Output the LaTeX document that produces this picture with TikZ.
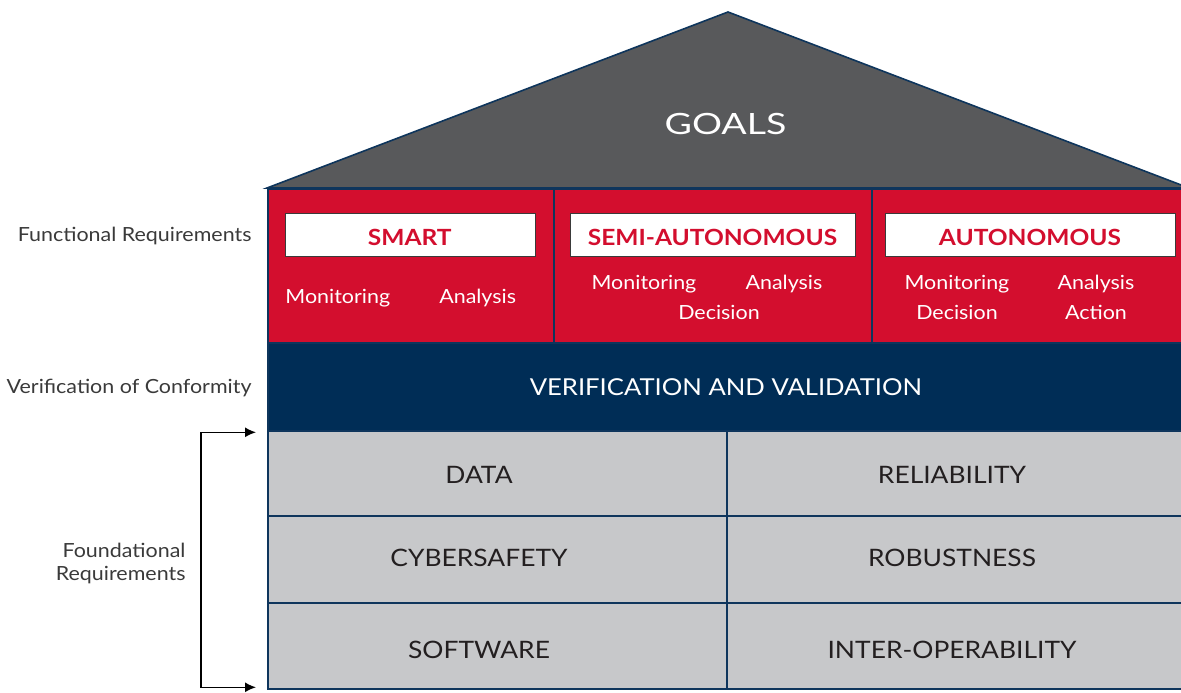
\documentclass[tikz,border=0pt]{standalone}
\usepackage{fontspec}
\setmainfont{Lato}[FakeStretch=1.1]
\newfontfamily\fontacoperis{Lato}[FakeStretch=1.28]
\usetikzlibrary{arrows.meta}

\definecolor{acoperis}{HTML}{58595B}
\definecolor{bleumarin}{HTML}{002D56}
\definecolor{contur}{HTML}{0E355C}
\definecolor{rosu}{HTML}{D30E2E}
\definecolor{gri}{HTML}{C7C8CA}
\definecolor{textinchis}{HTML}{231F20}
\definecolor{textgri}{HTML}{3A3A3A}

\newcommand{\mar}[1]{\fontsize{#1}{#1}\selectfont}

\begin{document}
\begin{tikzpicture}[x=1pt,y=-1pt,
  margine/.style={draw=contur,line width=1.6pt},
  panou/.style={margine,fill=rosu,anchor=north west,minimum height=154pt,inner sep=0pt},
  caseta/.style={draw=textgri,line width=0.8pt,fill=white,minimum height=43pt,inner sep=0pt},
  titlu/.style={text=rosu,anchor=base,inner sep=0pt,font=\mar{22.3}\bfseries},
  sub/.style={text=white,anchor=base,inner sep=0pt,font=\mar{19.5}},
  celula/.style={margine,fill=gri,anchor=north west,inner sep=0pt},
  scris/.style={text=textinchis,anchor=base,inner sep=0pt,font=\mar{24}},
  eticheta/.style={text=textgri,anchor=base east,inner sep=0pt,font=\fontsize{19.5}{22.5}\selectfont},
  acolada/.style={{Latex[length=11pt,width=10pt]}-{Latex[length=11pt,width=10pt]},line width=1.4pt,black}]
  \clip (0,0) rectangle (1181,693);

  % acoperiș
  \draw[margine,fill=acoperis] (267,188) coordinate (s1) -- (728,12) coordinate (varf) -- (1189,188) coordinate (s2) -- cycle;
  \node[text=white,anchor=base,inner sep=0pt,font=\fontacoperis\mar{29.3}] (scop) at (725.5,134) {GOALS};

  % cerințe funcționale
  \node[panou,minimum width=286pt] (smart) at (267,188) {};
  \node[panou,minimum width=318pt] (semi) at (553,188) {};
  \node[panou,minimum width=320pt] (auto) at (871,188) {};

  \node[caseta,minimum width=250pt] (csmart) at (410,235) {};
  \node[caseta,minimum width=285pt] (csemi) at (712.5,235) {};
  \node[caseta,minimum width=290pt] (cauto) at (1030,235) {};
  \node[titlu] (tsmart) at (409.7,245.7) {SMART};
  \node[titlu] (tsemi) at (712.5,245.7) {SEMI-AUTONOMOUS};
  \node[titlu] (tauto) at (1030,245.7) {AUTONOMOUS};

  \node[sub] (m1) at (337.8,303.3) {Monitoring};
  \node[sub] (a1) at (477.7,303.3) {Analysis};
  \node[sub] (m2) at (644,289.3) {Monitoring};
  \node[sub] (a2) at (784,289.3) {Analysis};
  \node[sub] (d2) at (719,319.3) {Decision};
  \node[sub] (m3) at (957,289.3) {Monitoring};
  \node[sub] (a3) at (1096,289.3) {Analysis};
  \node[sub] (d3) at (957,319.3) {Decision};
  \node[sub] (ac3) at (1096,319.3) {Action};

  % verificare și validare
  \node[margine,fill=bleumarin,anchor=north west,minimum width=923pt,minimum height=88pt,inner sep=0pt] (vv) at (267,342) {};
  \node[text=white,anchor=base,inner sep=0pt,font=\mar{23.3}] (tvv) at (725.9,395) {VERIFICATION AND VALIDATION};

  % cerințe de bază
  \node[celula,minimum width=459pt,minimum height=85pt] (date) at (267,430) {};
  \node[celula,minimum width=464pt,minimum height=85pt] (fiab) at (726,430) {};
  \node[celula,minimum width=459pt,minimum height=87pt] (ciber) at (267,515) {};
  \node[celula,minimum width=464pt,minimum height=87pt] (robust) at (726,515) {};
  \node[celula,minimum width=459pt,minimum height=86pt] (soft) at (267,602) {};
  \node[celula,minimum width=464pt,minimum height=86pt] (inter) at (726,602) {};

  \node[scris] (tdate) at (479,483.3) {DATA};
  \node[scris] (tfiab) at (952,483.3) {RELIABILITY};
  \node[scris] (tciber) at (479,566) {CYBERSAFETY};
  \node[scris] (trobust) at (952,566) {ROBUSTNESS};
  \node[scris] (tsoft) at (479,658.3) {SOFTWARE};
  \node[scris] (tinter) at (952,658.3) {INTER-OPERABILITY};

  % etichete din stânga
  \node[eticheta] (func) at (251.7,241.7) {Functional Requirements};
  \node[eticheta] (conf) at (251.7,393.3) {Verification of Conformity};
  \node[eticheta,align=right] (fund) at (185.7,580) {Foundational\\Requirements};

  % paranteza cu săgeți
  \coordinate (p1) at (201,432.3);
  \coordinate (p2) at (201,687.3);
  \draw[acolada] ([xshift=-11pt]date.west |- p1) -- (p1) -- (p2) -- ([xshift=-11pt]soft.west |- p2);
\end{tikzpicture}
\end{document}
